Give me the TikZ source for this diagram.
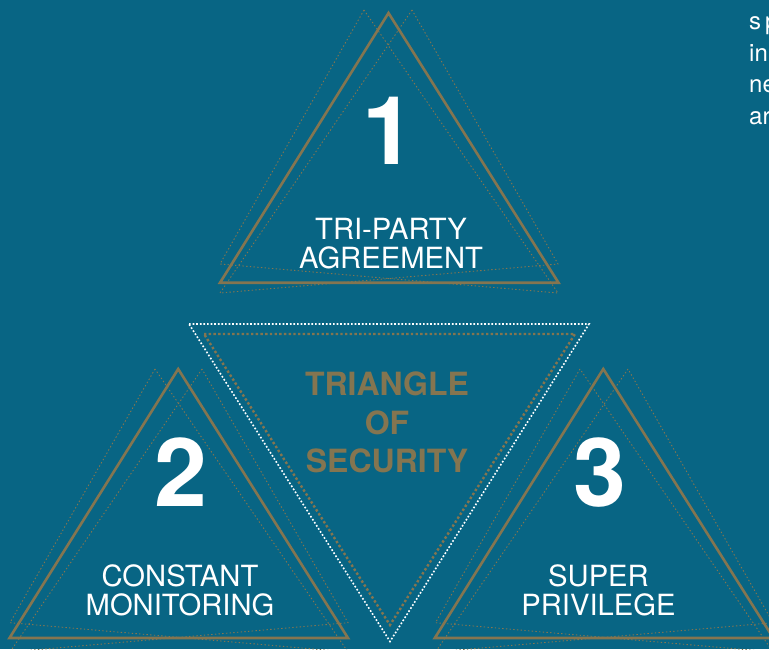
\documentclass[tikz,border=0pt]{standalone}
\usepackage{fontspec}
\setmainfont{TeX Gyre Heros}
\definecolor{bgteal}{HTML}{086584}
\definecolor{gold}{HTML}{847550}
\tikzset{
  solidtri/.style={draw=gold,line width=2.6pt,line join=miter},
  faint/.style={draw=gold,line width=0.9pt,dash pattern=on 1.4pt off 2.3pt},
  whitedots/.style={draw=white,line width=1.6pt,dash pattern=on 1.7pt off 1.9pt},
  golddots/.style={draw=gold,line width=2.4pt,dash pattern=on 2.4pt off 2.3pt},
  bignum/.style={text=white,inner sep=0pt,anchor=base,font=\fontsize{95}{95}\bfseries\selectfont},
  label/.style={text=white,inner sep=0pt,anchor=center,align=center,font=\fontsize{29.2}{29}\selectfont},
  heading/.style={text=gold,inner sep=0pt,anchor=base,font=\fontsize{32}{32}\bfseries\selectfont},
  sidetext/.style={text=white,inner sep=0pt,anchor=base west,font=\fontsize{24}{24}\selectfont}
}
\begin{document}
\begin{tikzpicture}[x=1pt,y=-1pt]
\useasboundingbox (0,0) rectangle (769,649);
\clip (0,0) rectangle (769,649);
\fill[bgteal] (0,0) rectangle (769,649);
% Triangle 1
\coordinate (a1) at (388.5,13); \coordinate (b1) at (220,282.7); \coordinate (c1) at (558.5,282.7);
\coordinate (d1) at (364,10); \coordinate (e1) at (220,264); \coordinate (f1) at (558,293);
\coordinate (g1) at (412,10); \coordinate (h1) at (220,293); \coordinate (i1) at (558,264);
\draw[faint] (d1) -- (e1) -- (f1) -- cycle;
\draw[faint] (g1) -- (h1) -- (i1) -- cycle;
\draw[solidtri] (a1) -- (b1) -- (c1) -- cycle;
% Triangle 2
\coordinate (a2) at (178.2,369); \coordinate (b2) at (9.5,638); \coordinate (c2) at (348,638);
\coordinate (d2) at (155,369); \coordinate (e2) at (10,622.7); \coordinate (f2) at (348,652);
\coordinate (g2) at (202,369); \coordinate (h2) at (10,652); \coordinate (i2) at (348,622.7);
\draw[faint] (d2) -- (e2) -- (f2) -- cycle;
\draw[faint] (g2) -- (h2) -- (i2) -- cycle;
\draw[solidtri] (a2) -- (b2) -- (c2) -- cycle;
% Triangle 3
\coordinate (a3) at (603.3,369); \coordinate (b3) at (434.8,638); \coordinate (c3) at (773.3,638);
\coordinate (d3) at (580,369); \coordinate (e3) at (435.5,622.7); \coordinate (f3) at (773,652);
\coordinate (g3) at (628,369); \coordinate (h3) at (435.5,652); \coordinate (i3) at (773,622.7);
\draw[faint] (d3) -- (e3) -- (f3) -- cycle;
\draw[faint] (g3) -- (h3) -- (i3) -- cycle;
\draw[solidtri] (a3) -- (b3) -- (c3) -- cycle;
% Central inverted triangle
\coordinate (wa) at (189,324); \coordinate (wb) at (589,324); \coordinate (wc) at (390,641.5);
\coordinate (ga) at (204,334); \coordinate (gb) at (575,334); \coordinate (gc) at (390,625);
\draw[golddots] (ga) -- (gb) -- (gc) -- cycle;
\draw[whitedots] (wa) -- (wb) -- (wc) -- cycle;
% Text
\node[bignum] (n1) at (388.5,164) {1};
\node[bignum] (n2) at (180.5,506) {2};
\node[bignum] (n3) at (600,506) {3};
\node[label] (l1) at (391,244) {TRI-PARTY\\AGREEMENT};
\node[label] (l2) at (180,590.5) {CONSTANT\\MONITORING};
\node[label] (l3) at (598.5,590.5) {SUPER\\PRIVILEGE};
\node[heading] (h1t) at (387,395) {TRIANGLE};
\node[heading] (h2t) at (387,434) {OF};
\node[heading] (h3t) at (387,472.3) {SECURITY};
\node[sidetext] (s1) at (749,29) {s};
\node[sidetext] (s1b) at (765,29) {p};
\node[sidetext] (s2) at (749,61) {in};
\node[sidetext] (s3) at (749,92.5) {ne};
\node[sidetext] (s4) at (749,124) {ar};
\end{tikzpicture}
\end{document}
